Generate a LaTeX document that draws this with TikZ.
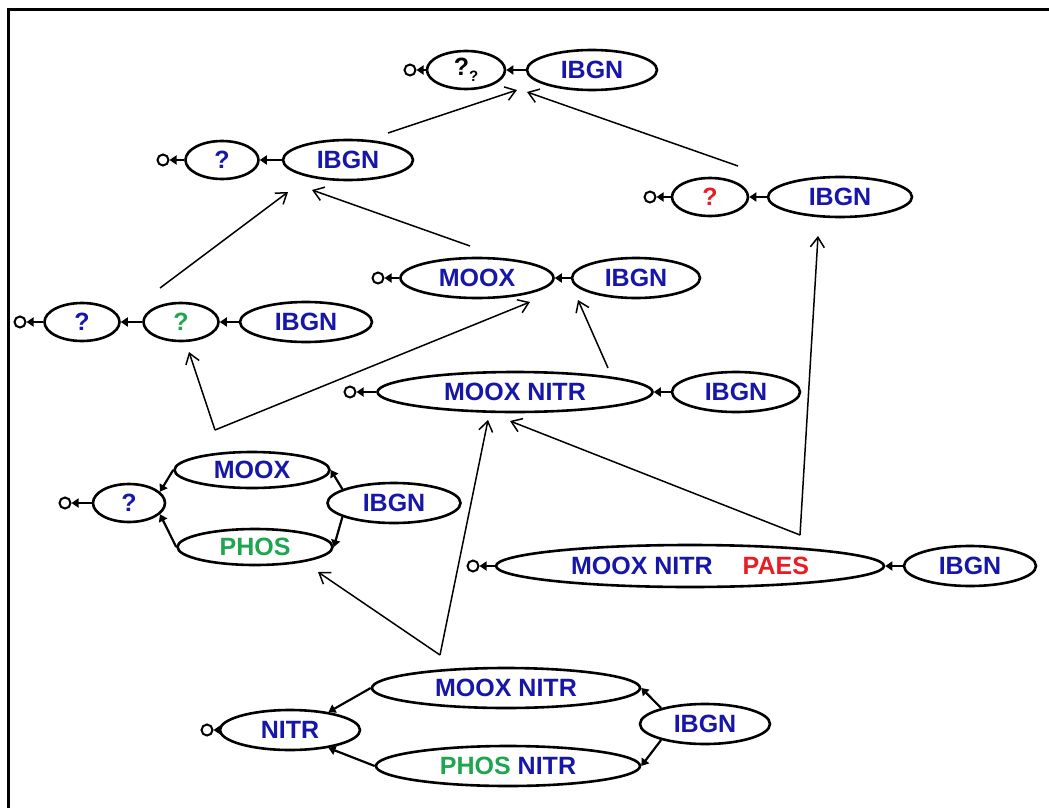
\documentclass[tikz,border=0pt]{standalone}
\usepackage{fontspec}
\setmainfont{Liberation Sans}
\usetikzlibrary{shapes.geometric,arrows.meta}
\definecolor{tblue}{RGB}{22,22,168}
\definecolor{tgreen}{RGB}{30,165,80}
\definecolor{tred}{RGB}{232,28,36}
\tikzset{
  el/.style={ellipse, draw, line width=2.6pt, inner sep=0pt, text=tblue,
    font=\bfseries\fontsize{25}{28}\selectfont, minimum height=40pt},
  outc/.style={circle, draw, line width=2pt, inner sep=0pt, minimum size=11pt},
  link/.style={line width=2.2pt, -{Triangle[length=7pt,width=9pt]}},
  flow/.style={line width=1.5pt, -{Straight Barb[length=10pt,width=14pt,line width=1.5pt]}}
}
\begin{document}
\begin{tikzpicture}[x=1pt,y=-1pt]
\useasboundingbox (0,0) rectangle (1049,808);
\draw[line width=3pt] (8,808) -- (8,10) -- (1049,10);

% top row
\node[outc] (cTop) at (410,70) {};
\node[el, minimum width=78pt, minimum height=38pt, text=black] (qq) at (466,70) {?\raisebox{-0.45ex}{\fontsize{15}{15}\selectfont ?}};
\node[el, minimum width=130pt] (ibT) at (592,70) {IBGN};
\draw[link] (ibT) -- (qq);
\draw[link] (qq) -- (cTop);

% row 2 left
\node[outc] (c2) at (163,160) {};
\node[el, minimum width=73pt, minimum height=38pt] (q2) at (222,160) {?};
\node[el, minimum width=130pt] (ib2) at (348,160) {IBGN};
\draw[link] (ib2) -- (q2);
\draw[link] (q2) -- (c2);

% red row
\node[outc] (cR) at (650,197) {};
\node[el, minimum width=76pt, minimum height=38pt, text=tred] (qR) at (710,197) {?};
\node[el, minimum width=144pt] (ibR) at (840,197) {IBGN};
\draw[link] (ibR) -- (qR);
\draw[link] (qR) -- (cR);

% MOOX row
\node[outc] (cM) at (378,278) {};
\node[el, minimum width=153pt] (mx) at (477,278) {MOOX};
\node[el, minimum width=128pt] (ibM) at (636,278) {IBGN};
\draw[link] (ibM) -- (mx);
\draw[link] (mx) -- (cM);

% row 4
\node[outc] (c4) at (20,322) {};
\node[el, minimum width=75pt, minimum height=38pt] (q4) at (82,322) {?};
\node[el, minimum width=75pt, minimum height=38pt, text=tgreen] (g4) at (181,322) {?};
\node[el, minimum width=132pt] (ib4) at (306,322) {IBGN};
\draw[link] (ib4) -- (g4);
\draw[link] (g4) -- (q4);
\draw[link] (q4) -- (c4);

% MOOX NITR row
\node[outc] (cMN) at (350,392) {};
\node[el, minimum width=275pt] (mn) at (515,392) {MOOX NITR};
\node[el, minimum width=128pt] (ibMN) at (736,392) {IBGN};
\draw[link] (ibMN) -- (mn);
\draw[link] (mn) -- (cMN);

% block 1
\node[outc] (cB1) at (65,503) {};
\node[el, minimum width=72pt, minimum height=38pt] (qB1) at (129,503) {?};
\node[el, minimum width=155pt, minimum height=36pt] (mB1) at (252,470) {MOOX};
\node[el, minimum width=155pt, minimum height=36pt, text=tgreen] (pB1) at (255,547) {PHOS};
\node[el, minimum width=133pt] (ibB1) at (394,503) {IBGN};
\draw[link] (ibB1.165) -- (mB1.east);
\draw[link] (ibB1.-165) -- (pB1.east);
\draw[link] (mB1.west) -- (qB1.20);
\draw[link] (pB1.west) -- (qB1.-20);
\draw[link] (qB1) -- (cB1);

% PAES row
\node[outc] (cP) at (473,566) {};
\node[el, minimum width=388pt, minimum height=42pt] (mp) at (690,566) {MOOX NITR\hspace{30pt}\textcolor{tred}{PAES}};
\node[el, minimum width=132pt] (ibP) at (970,566) {IBGN};
\draw[link] (ibP) -- (mp);
\draw[link] (mp) -- (cP);

% block 2
\node[outc] (cB2) at (207,730) {};
\node[el, minimum width=140pt] (nB2) at (290,730) {NITR\hspace{30pt}};
\node[el, minimum width=268pt] (mnB2) at (506,688) {MOOX NITR};
\node[el, minimum width=264pt] (pnB2) at (508,766) {\textcolor{tgreen}{PHOS} NITR};
\node[el, minimum width=130pt] (ibB2) at (705,724) {IBGN};
\draw[link] (ibB2.160) -- (mnB2.east);
\draw[link] (ibB2.-160) -- (pnB2.east);
\draw[link] (mnB2.west) -- (nB2.25);
\draw[link] (pnB2.west) -- (nB2.-25);
\draw[link] (nB2) -- (cB2);

% long flow arrows
\coordinate (s1) at (388,133); \coordinate (t1) at (517,90);
\coordinate (s2) at (738,166); \coordinate (t2) at (527,92);
\coordinate (s3) at (160,288); \coordinate (t3) at (288,192);
\coordinate (s4) at (470,246); \coordinate (t4) at (312,190);
\coordinate (s5) at (608,368); \coordinate (t5) at (578,300);
\coordinate (v6) at (215,430); \coordinate (t6a) at (189,352); \coordinate (t6b) at (530,302);
\coordinate (v7) at (800,535); \coordinate (t7a) at (818,236); \coordinate (t7b) at (510,421);
\coordinate (v8) at (440,655); \coordinate (t8a) at (488,420); \coordinate (t8b) at (318,572);
\draw[flow] (s1) -- (t1);
\draw[flow] (s2) -- (t2);
\draw[flow] (s3) -- (t3);
\draw[flow] (s4) -- (t4);
\draw[flow] (s5) -- (t5);
\draw[flow] (v6) -- (t6a);
\draw[flow] (v6) -- (t6b);
\draw[flow] (v7) -- (t7a);
\draw[flow] (v7) -- (t7b);
\draw[flow] (v8) -- (t8a);
\draw[flow] (v8) -- (t8b);
\end{tikzpicture}
\end{document}
